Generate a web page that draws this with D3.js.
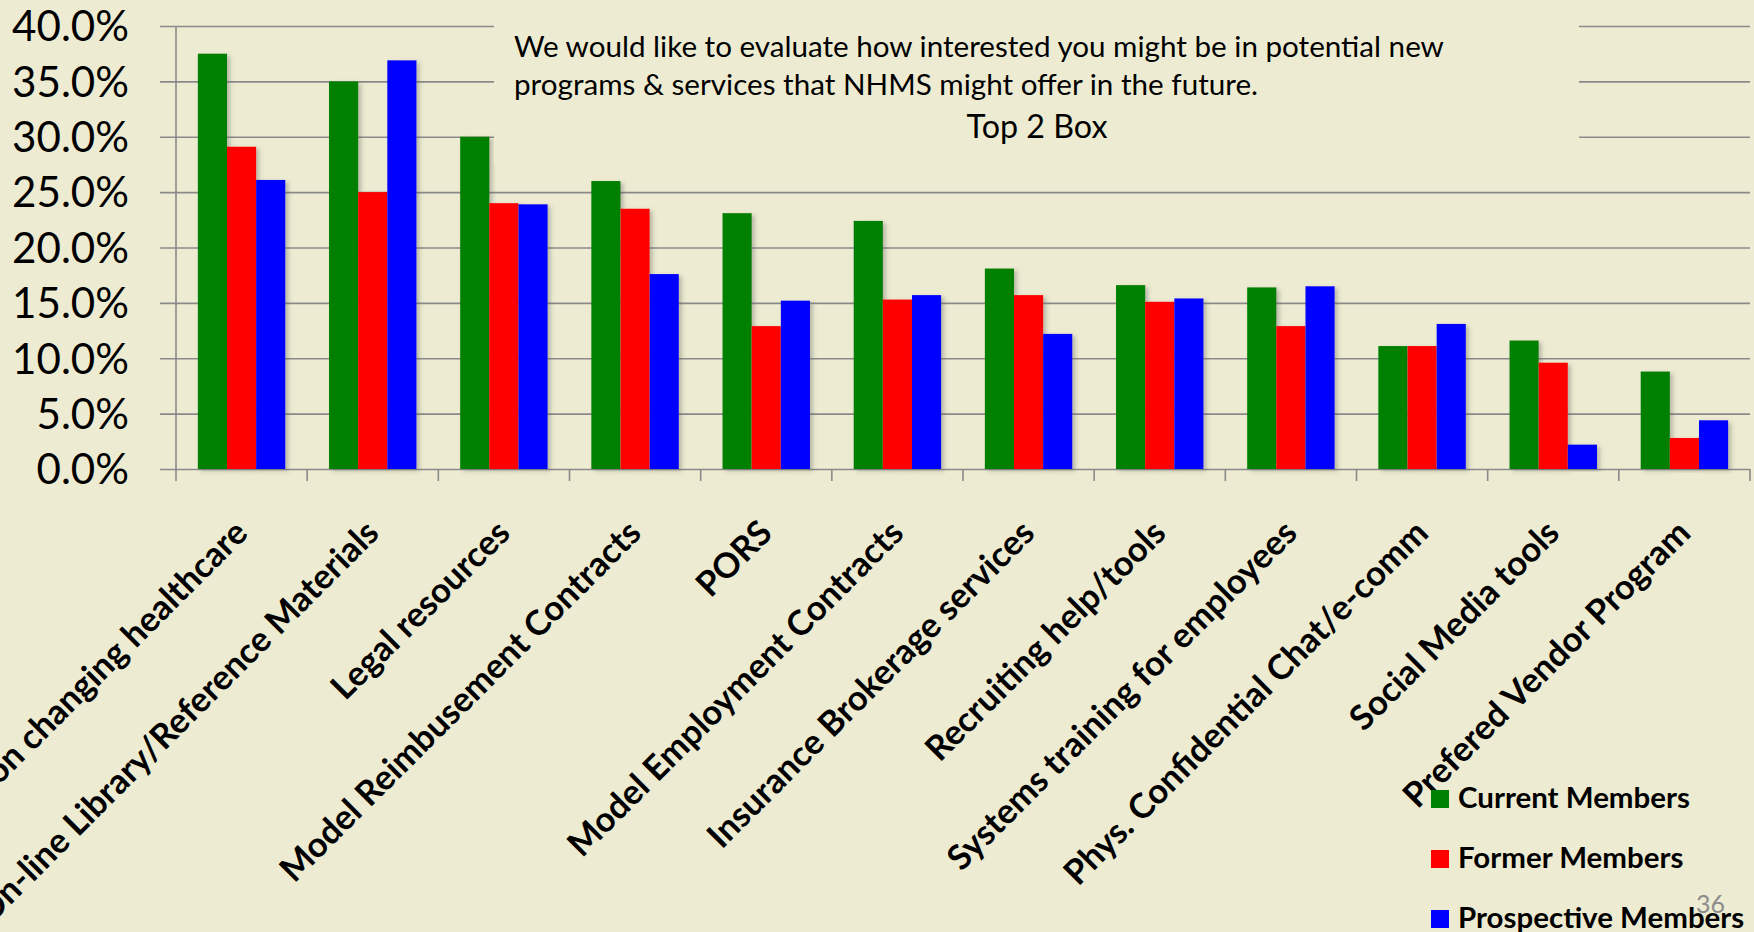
<!DOCTYPE html>
<html>
<head>
<meta charset="utf-8">
<script src="https://cdn.jsdelivr.net/npm/d3@7"></script>
<style>
  body { margin: 0; background: #edecd2; overflow: hidden; }
  text { font-family: Lato, "Open Sans", sans-serif; }
</style>
</head>
<body>
<div id="chart"></div>
<script>
// chart data
var categories = [
  "Education on changing healthcare",
  "On-line Library/Reference Materials",
  "Legal resources",
  "Model Reimbusement Contracts",
  "PORS",
  "Model Employment Contracts",
  "Insurance Brokerage services",
  "Recruiting help/tools",
  "Systems training for employees",
  "Phys. Confidential Chat/e-comm",
  "Social Media tools",
  "Prefered Vendor Program"
];
var seriesNames = ["Current Members", "Former Members", "Prospective Members"];
var seriesColors = ["#008000", "#ff0000", "#0000ff"];
var currentMembers = [37.5, 35.0, 30.0, 26.0, 23.1, 22.4, 18.1, 16.6, 16.4, 11.1, 11.6, 8.8];
var formerMembers = [29.1, 25.0, 24.0, 23.5, 12.9, 15.3, 15.7, 15.1, 12.9, 11.1, 9.6, 2.8];
var prospectiveMembers = [26.1, 36.9, 23.9, 17.6, 15.2, 15.7, 12.2, 15.4, 16.5, 13.1, 2.2, 4.4];
var yTicks = [0, 5, 10, 15, 20, 25, 30, 35, 40];
var titleLines = [
  "We would like to evaluate how interested you might be in potential new",
  "programs & services that NHMS might offer in the future."
];
var subTitle = "Top 2 Box";
var pageNumber = "36";

var svgWidth = 1754;
var svgHeight = 932;

var margin = {
  top: 26,
  right: 4,
  bottom: 463,
  left: 176
};

var width = svgWidth - margin.left - margin.right;
var height = svgHeight - margin.top - margin.bottom;

var svg = d3
  .select("#chart")
  .append("svg")
  .attr("width", svgWidth)
  .attr("height", svgHeight);

// soft shadow under the bars
var shadow = svg.append("defs").append("filter")
  .attr("id", "barShadow")
  .attr("x", "-20%").attr("y", "-5%")
  .attr("width", "150%").attr("height", "115%");
shadow.append("feDropShadow")
  .attr("dx", 3)
  .attr("dy", 2)
  .attr("stdDeviation", 2)
  .attr("flood-color", "#555")
  .attr("flood-opacity", 0.35);

// shrink or grow a text so it spans the wanted width
function fitText(sel, target) {
  var len = sel.node().getComputedTextLength();
  var size = parseFloat(sel.attr("font-size"));
  sel.attr("font-size", size * target / len);
  return sel;
}

var chartGroup = svg.append("g")
  .attr("transform", `translate(${margin.left}, ${margin.top})`);

// scales
var x0 = d3.scaleBand()
  .domain(categories)
  .range([0, width])
  .paddingInner(1 / 3)
  .paddingOuter(1 / 6);

var x1 = d3.scaleBand()
  .domain(seriesNames)
  .range([0, x0.bandwidth()]);

var yLinearScale = d3.scaleLinear()
  .domain([0, 40])
  .range([height, 0]);

// gridlines + y labels (the gridlines stick out 16px left of the axis)
var leftAxis = d3.axisLeft(yLinearScale)
  .tickValues(yTicks)
  .tickSize(-(width + 16))
  .tickPadding(31)
  .tickFormat(d => d.toFixed(1) + "%");

var yAxis = chartGroup.append("g")
  .attr("transform", "translate(-16, 0)")
  .call(leftAxis);
yAxis.select(".domain").remove();
yAxis.selectAll("line")
  .attr("stroke", "#8a8a8a")
  .attr("stroke-width", 1.6);
yAxis.selectAll("text")
  .attr("font-size", 42)
  .attr("fill", "#000")
  .attr("dy", "0.35em");
fitText(yAxis.selectAll("text").filter(d => d === 40), 117);
var ySize = yAxis.selectAll("text").filter(d => d === 40).attr("font-size");
yAxis.selectAll("text").attr("font-size", ySize);

// vertical axis line
chartGroup.append("line")
  .attr("x1", 0).attr("x2", 0)
  .attr("y1", 0).attr("y2", height)
  .attr("stroke", "#8a8a8a")
  .attr("stroke-width", 1.6);

// category tick marks on the band edges
var edges = categories.map(c => x0(c) - (x0.step() - x0.bandwidth()) / 2);
edges.push(width);
chartGroup.selectAll(".catTick")
  .data(edges)
  .enter()
  .append("line")
  .attr("class", "catTick")
  .attr("x1", d => d).attr("x2", d => d)
  .attr("y1", height).attr("y2", height + 12)
  .attr("stroke", "#8a8a8a")
  .attr("stroke-width", 1.6);

// text box covering the top gridlines
svg.append("rect")
  .attr("x", 494)
  .attr("y", 0)
  .attr("width", 1579 - 494)
  .attr("height", 165)
  .attr("fill", "#edecd2");

var line1 = svg.append("text")
  .attr("x", 514)
  .attr("y", 57)
  .attr("font-size", 28)
  .attr("fill", "#000")
  .text(titleLines[0]);
fitText(line1, 930);

var line2 = svg.append("text")
  .attr("x", 514)
  .attr("y", 95)
  .attr("font-size", line1.attr("font-size"))
  .attr("fill", "#000")
  .text(titleLines[1]);

var sub = svg.append("text")
  .attr("x", 1037)
  .attr("y", 138)
  .attr("text-anchor", "middle")
  .attr("font-size", 30)
  .attr("fill", "#000")
  .text(subTitle);
fitText(sub, 141);

// build rows for the grouped bars
var rows = categories.map(function(c, i) {
  return {
    category: c,
    values: [currentMembers[i], formerMembers[i], prospectiveMembers[i]].map(function(v, j) {
      return { series: seriesNames[j], value: v, color: seriesColors[j] };
    })
  };
});

var groups = chartGroup.selectAll(".group")
  .data(rows)
  .enter()
  .append("g")
  .attr("class", "group")
  .attr("transform", d => `translate(${x0(d.category)}, 0)`);

groups.selectAll("rect")
  .data(d => d.values)
  .enter()
  .append("rect")
  .attr("x", d => x1(d.series))
  .attr("y", d => yLinearScale(d.value))
  .attr("width", x1.bandwidth())
  .attr("height", d => height - yLinearScale(d.value))
  .attr("fill", d => d.color)
  .attr("filter", "url(#barShadow)");

// legend
var legend = svg.append("g")
  .attr("transform", "translate(1431, 790)");

var legendItems = legend.selectAll(".legendItem")
  .data(seriesNames)
  .enter()
  .append("g")
  .attr("class", "legendItem")
  .attr("transform", (d, i) => `translate(0, ${i * 60})`);

legendItems.append("rect")
  .attr("width", 18)
  .attr("height", 18)
  .attr("fill", (d, i) => seriesColors[i]);

legendItems.append("text")
  .attr("x", 27)
  .attr("y", 18)
  .attr("font-size", 30)
  .attr("font-weight", "bold")
  .attr("fill", "#000")
  .text(d => d);
fitText(legendItems.select("text").filter(d => d === "Current Members"), 232);
var legendSize = legendItems.select("text").filter(d => d === "Current Members").attr("font-size");
legendItems.selectAll("text").attr("font-size", legendSize);

// rotated category labels, a bit bigger than the legend
var labelSize = legendSize * 1.17;
var bottomAxis = d3.axisBottom(x0).tickSize(0);
var xAxis = chartGroup.append("g")
  .attr("transform", `translate(0, ${height})`)
  .call(bottomAxis);
xAxis.select(".domain").remove();
xAxis.selectAll("text")
  .attr("x", 0)
  .attr("y", 0)
  .attr("dy", 0)
  .attr("text-anchor", "end")
  .attr("transform", "translate(8, 66) rotate(-45)")
  .attr("font-size", labelSize)
  .attr("font-weight", "bold")
  .attr("fill", "#000");

// slide number
svg.append("text")
  .attr("x", 1696)
  .attr("y", 913)
  .attr("font-size", 25)
  .attr("fill", "#8c8c8c")
  .text(pageNumber);
legend.raise();
</script>
</body>
</html>
